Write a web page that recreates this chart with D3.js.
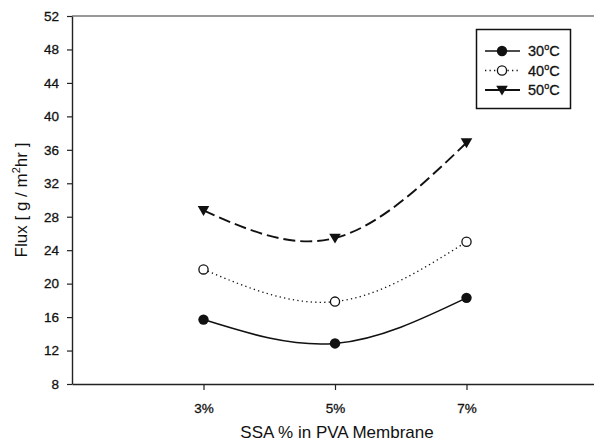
<!DOCTYPE html>
<html>
<head>
<meta charset="utf-8">
<script src="https://cdn.jsdelivr.net/npm/d3@7"></script>
<style>
  body { margin: 0; background: #fff; }
  svg { display: block; font-family: "Liberation Sans", Arial, sans-serif; }
</style>
</head>
<body>
<div id="vis"></div>
<script>
const FRAME_HEIGHT = 444;
const FRAME_WIDTH = 594;
const MARGINS = {left: 72, right: -4, top: 16, bottom: 60};
const VIS_HEIGHT = FRAME_HEIGHT - MARGINS.top - MARGINS.bottom;
const VIS_WIDTH = FRAME_WIDTH - MARGINS.left - MARGINS.right;

// data
const SSA = [3, 5, 7];
const X_TICKS = [3, 5, 7];
const X_TICK_LABELS = ["3%", "5%", "7%"];
const Y_TICKS = [8, 12, 16, 20, 24, 28, 32, 36, 40, 44, 48, 52];
const FLUX_30 = [15.7, 12.85, 18.3];
const FLUX_40 = [21.7, 17.85, 25.0];
const FLUX_50 = [28.75, 25.45, 36.85];
const SERIES_NAMES = ["30", "40", "50"];

const INK = "#111";

const FRAME1 = d3.select("#vis")
                  .append("svg")
                    .attr("height", FRAME_HEIGHT)
                    .attr("width", FRAME_WIDTH);

const X_SCALE = d3.scaleLinear()
                  .domain([1, 9])
                  .range([0, VIS_WIDTH]);

const Y_SCALE = d3.scaleLinear()
                  .domain([8, 52])
                  .range([VIS_HEIGHT, 0]);

const series = [
  {name: SERIES_NAMES[0], values: FLUX_30, dash: null, width: 1.6, marker: "dot"},
  {name: SERIES_NAMES[1], values: FLUX_40, dash: "1.3,3.2", width: 1.3, marker: "ring"},
  {name: SERIES_NAMES[2], values: FLUX_50, dash: "12,5", width: 1.9, marker: "tri"}
];

const plot = FRAME1.append("g")
    .attr("transform", "translate(" + MARGINS.left + "," + MARGINS.top + ")");

// top border of the frame
plot.append("line")
    .attr("x1", 0).attr("x2", VIS_WIDTH)
    .attr("y1", 0).attr("y2", 0)
    .attr("stroke", "#333").attr("stroke-width", 1.2);

// x axis
const xAxis = plot.append("g")
    .attr("transform", "translate(0," + VIS_HEIGHT + ")")
    .call(d3.axisBottom(X_SCALE).tickValues(X_TICKS)
            .tickFormat((d, i) => X_TICK_LABELS[i])
            .tickSize(6).tickSizeOuter(0).tickPadding(13));

// y axis
const yAxis = plot.append("g")
    .call(d3.axisLeft(Y_SCALE).tickValues(Y_TICKS)
            .tickSize(5).tickSizeOuter(0).tickPadding(8));

[xAxis, yAxis].forEach(ax => {
  ax.select(".domain").attr("stroke", "#222").attr("stroke-width", 1.4);
  ax.selectAll(".tick line").attr("stroke", "#222").attr("stroke-width", 1.2);
  ax.selectAll(".tick text")
    .attr("fill", INK)
    .attr("stroke", INK)
    .attr("stroke-width", 0.3)
    .attr("font-size", "13.5px")
    .attr("font-family", "Liberation Sans, Arial, sans-serif");
});

// smooth curves through the points
const line = d3.line()
    .x((d, i) => X_SCALE(SSA[i]))
    .y(d => Y_SCALE(d))
    .curve(d3.curveNatural);

series.forEach(s => {
  plot.append("path")
      .datum(s.values)
      .attr("d", line)
      .attr("fill", "none")
      .attr("stroke", INK)
      .attr("stroke-width", s.width)
      .attr("stroke-dasharray", s.dash);
});

const triangle = (cx, cy, r) => {
  return "M" + (cx - r) + "," + (cy - r * 0.75) +
         "L" + (cx + r) + "," + (cy - r * 0.75) +
         "L" + cx + "," + (cy + r * 0.95) + "Z";
};

function drawMarker(g, kind, cx, cy) {
  if (kind === "dot") {
    g.append("circle").attr("cx", cx).attr("cy", cy).attr("r", 5.2)
      .attr("fill", INK);
  } else if (kind === "ring") {
    g.append("circle").attr("cx", cx).attr("cy", cy).attr("r", 4.6)
      .attr("fill", "#fff").attr("stroke", INK).attr("stroke-width", 1.3);
  } else {
    g.append("path").attr("d", triangle(cx, cy, 5.8)).attr("fill", INK);
  }
}

series.forEach(s => {
  s.values.forEach((v, i) => {
    drawMarker(plot, s.marker, X_SCALE(SSA[i]), Y_SCALE(v));
  });
});

// legend
const legend = FRAME1.append("g");
legend.append("rect")
    .attr("x", 476.5).attr("y", 29.5)
    .attr("width", 94).attr("height", 79)
    .attr("fill", "#fff")
    .attr("stroke", INK).attr("stroke-width", 1.5);

series.forEach((s, i) => {
  const y = 51 + i * 19.5;
  legend.append("line")
      .attr("x1", 485).attr("x2", 520)
      .attr("y1", y).attr("y2", y)
      .attr("stroke", INK)
      .attr("stroke-width", s.width)
      .attr("stroke-dasharray", s.marker === "ring" ? s.dash : null);
  drawMarker(legend, s.marker, 502, y);
  const t = legend.append("text")
      .attr("x", 528).attr("y", y + 5)
      .attr("font-size", "14.5px")
      .attr("fill", INK)
      .attr("stroke", INK)
      .attr("stroke-width", 0.3);
  t.append("tspan").text(s.name);
  t.append("tspan").attr("font-size", "9px").attr("dy", -6).text("o");
  t.append("tspan").attr("dy", 6).text("C");
});

// axis titles
FRAME1.append("text")
    .attr("x", 337)
    .attr("y", 438)
    .attr("text-anchor", "middle")
    .attr("font-size", "17px")
    .attr("fill", INK)
    .text("SSA % in PVA Membrane");

const yTitle = FRAME1.append("text")
    .attr("transform", "translate(27,200) rotate(-90)")
    .attr("text-anchor", "middle")
    .attr("font-size", "17px")
    .attr("fill", INK);
yTitle.append("tspan").text("Flux [ g / m");
yTitle.append("tspan").attr("font-size", "11px").attr("dy", -7).text("2");
yTitle.append("tspan").attr("dy", 7).text("hr ]");
</script>
</body>
</html>
